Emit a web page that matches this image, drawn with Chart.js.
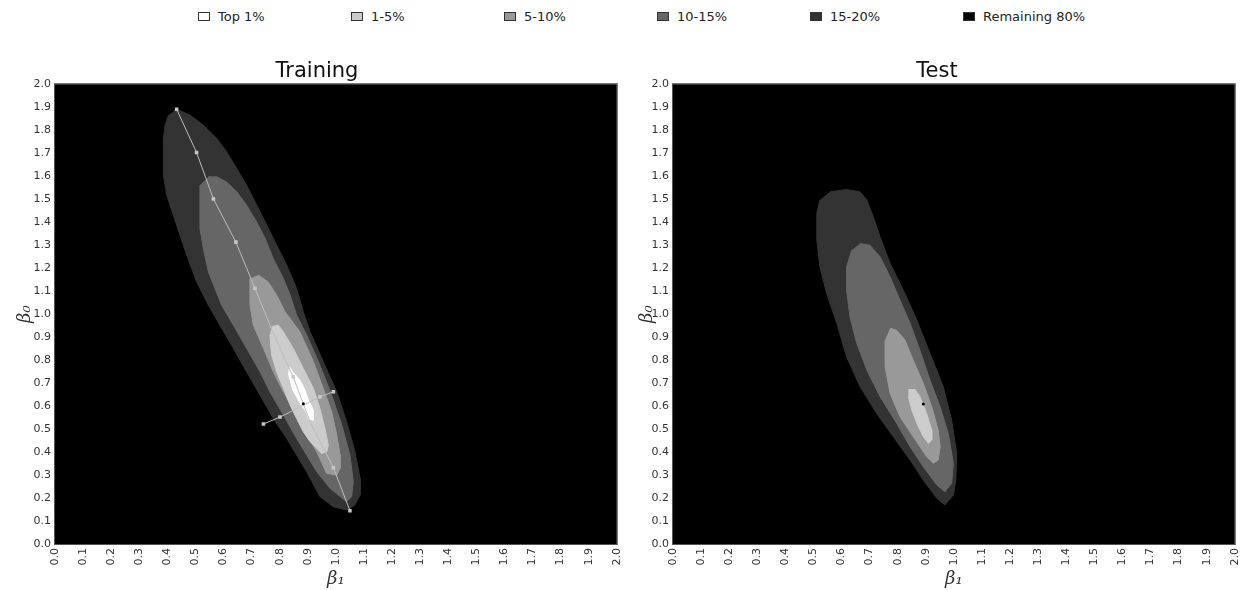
<!DOCTYPE html>
<html>
<head>
<meta charset="utf-8">
<script src="https://cdn.jsdelivr.net/npm/chart.js@4.4.0/dist/chart.umd.min.js"></script>
<style>
  body { margin: 0; background: #fff; width: 1244px; height: 590px; position: relative; overflow: hidden; font-family: "DejaVu Sans", sans-serif; }
  #legend { position: absolute; top: 9px; left: 198px; display: flex; z-index: 2; }
  .item { width: 153px; display: flex; align-items: center; font-size: 13px; color: #222; }
  .box { width: 10px; height: 7px; border: 1px solid #333; margin-right: 8px; }
  .wrap { position: absolute; top: 40px; height: 550px; }
</style>
</head>
<body>
<div id="legend"></div>
<div class="wrap" style="left:0;width:634px"><canvas id="train" width="634" height="550"></canvas></div>
<div class="wrap" style="left:622px;width:630px"><canvas id="test" width="630" height="550"></canvas></div>
<script>
const levels = ['Top 1%', '1-5%', '5-10%', '10-15%', '15-20%', 'Remaining 80%'];
const levelColors = ['#ffffff', '#cccccc', '#999999', '#666666', '#333333', '#000000'];
const tickLabels = ['0.0', '0.1', '0.2', '0.3', '0.4', '0.5', '0.6', '0.7', '0.8', '0.9', '1.0',
  '1.1', '1.2', '1.3', '1.4', '1.5', '1.6', '1.7', '1.8', '1.9', '2.0'];
const tickValues = tickLabels.map(Number);

// region outlines, points are [beta1, beta0]
const trainTop1 = [[0.834, 0.771], [0.846, 0.749], [0.872, 0.713], [0.890, 0.670], [0.902, 0.626], [0.920, 0.583],
  [0.920, 0.539], [0.905, 0.539], [0.890, 0.583], [0.872, 0.612], [0.860, 0.641], [0.846, 0.670], [0.837, 0.713], [0.830, 0.742]];
const train1to5 = [[0.771, 0.945], [0.795, 0.952], [0.813, 0.923], [0.848, 0.851], [0.884, 0.764], [0.920, 0.677],
  [0.943, 0.590], [0.961, 0.503], [0.973, 0.430], [0.967, 0.401], [0.949, 0.394], [0.932, 0.416], [0.908, 0.445],
  [0.884, 0.488], [0.860, 0.546], [0.837, 0.604], [0.813, 0.677], [0.789, 0.749], [0.771, 0.822], [0.765, 0.909]];
const train5to10 = [[0.724, 1.170], [0.759, 1.140], [0.789, 1.083], [0.819, 1.010], [0.872, 0.923], [0.920, 0.793],
  [0.955, 0.677], [0.985, 0.575], [1.003, 0.474], [1.015, 0.387], [1.015, 0.329], [1.003, 0.300], [0.967, 0.307],
  [0.932, 0.401], [0.896, 0.474], [0.860, 0.561], [0.813, 0.662], [0.777, 0.749], [0.742, 0.851], [0.706, 0.952],
  [0.694, 1.039], [0.694, 1.155]];
const train10to15 = [[0.546, 1.597], [0.576, 1.597], [0.611, 1.575], [0.647, 1.532], [0.682, 1.474], [0.718, 1.401],
  [0.748, 1.329], [0.777, 1.242], [0.813, 1.155], [0.837, 1.083], [0.860, 0.996], [0.896, 0.909], [0.943, 0.778],
  [0.985, 0.648], [1.021, 0.517], [1.050, 0.387], [1.062, 0.271], [1.056, 0.206], [1.038, 0.184], [0.979, 0.242],
  [0.932, 0.314], [0.896, 0.387], [0.860, 0.459], [0.813, 0.561], [0.765, 0.662], [0.730, 0.749], [0.682, 0.851],
  [0.635, 0.952], [0.593, 1.039], [0.546, 1.184], [0.528, 1.286], [0.516, 1.373], [0.516, 1.561]];
const train15to20 = [[0.433, 1.891], [0.481, 1.865], [0.528, 1.822], [0.576, 1.764], [0.611, 1.706], [0.647, 1.633],
  [0.682, 1.561], [0.718, 1.474], [0.754, 1.387], [0.789, 1.300], [0.825, 1.213], [0.860, 1.112], [0.884, 1.010],
  [0.908, 0.923], [0.955, 0.793], [1.003, 0.662], [1.038, 0.532], [1.068, 0.401], [1.086, 0.286], [1.086, 0.213],
  [1.068, 0.170], [1.038, 0.148], [0.991, 0.162], [0.943, 0.206], [0.896, 0.314], [0.860, 0.387], [0.825, 0.459],
  [0.777, 0.546], [0.730, 0.648], [0.682, 0.749], [0.635, 0.851], [0.587, 0.952], [0.546, 1.039], [0.504, 1.140],
  [0.469, 1.257], [0.445, 1.343], [0.421, 1.430], [0.398, 1.517], [0.386, 1.604], [0.386, 1.764], [0.392, 1.822],
  [0.404, 1.865]];
const trainLongAxis = [[0.433, 1.891], [0.504, 1.703], [0.564, 1.501], [0.644, 1.313], [0.712, 1.112], [0.777, 0.917],
  [0.848, 0.727], [0.908, 0.532], [0.991, 0.332], [1.050, 0.145]];
const trainShortAxis = [[0.742, 0.522], [0.801, 0.552], [0.943, 0.640], [0.991, 0.662]];
const trainCenter = [[0.884, 0.610]];

const test1to5 = [[0.838, 0.672], [0.862, 0.672], [0.879, 0.641], [0.903, 0.568], [0.921, 0.496], [0.921, 0.452],
  [0.909, 0.438], [0.891, 0.467], [0.868, 0.525], [0.850, 0.583], [0.838, 0.641]];
const test5to10 = [[0.773, 0.938], [0.796, 0.930], [0.826, 0.887], [0.855, 0.800], [0.891, 0.699], [0.921, 0.597],
  [0.944, 0.496], [0.951, 0.423], [0.944, 0.365], [0.927, 0.351], [0.903, 0.380], [0.855, 0.467], [0.808, 0.554],
  [0.773, 0.655], [0.755, 0.771], [0.755, 0.887]];
const test10to15 = [[0.666, 1.307], [0.701, 1.300], [0.737, 1.249], [0.773, 1.162], [0.808, 1.061], [0.844, 0.960],
  [0.879, 0.843], [0.915, 0.713], [0.951, 0.597], [0.980, 0.481], [0.998, 0.351], [0.992, 0.264], [0.968, 0.227],
  [0.939, 0.257], [0.891, 0.336], [0.844, 0.423], [0.796, 0.525], [0.737, 0.641], [0.690, 0.757], [0.654, 0.873],
  [0.630, 0.988], [0.618, 1.104], [0.618, 1.206], [0.636, 1.278]];
const test15to20 = [[0.559, 1.532], [0.618, 1.542], [0.666, 1.532], [0.690, 1.496], [0.713, 1.423], [0.737, 1.336],
  [0.773, 1.220], [0.820, 1.104], [0.868, 0.974], [0.915, 0.829], [0.962, 0.684], [0.992, 0.539], [1.010, 0.394],
  [1.007, 0.278], [0.998, 0.213], [0.968, 0.170], [0.939, 0.199], [0.891, 0.278], [0.844, 0.365], [0.784, 0.467],
  [0.725, 0.568], [0.666, 0.684], [0.618, 0.814], [0.583, 0.960], [0.547, 1.090], [0.523, 1.206], [0.512, 1.322],
  [0.512, 1.438], [0.523, 1.496]];
const testCenter = [[0.891, 0.609]];

Chart.defaults.font.family = '"DejaVu Sans", sans-serif';
Chart.defaults.color = '#333';

// legend (shared by both panels)
const legendEl = document.getElementById('legend');
levels.forEach((name, i) => {
  const item = document.createElement('div');
  item.className = 'item';
  item.innerHTML = '<span class="box" style="background:' + levelColors[i] + '"></span>' + name;
  legendEl.appendChild(item);
});

function pts(arr) {
  return arr.map(p => ({x: p[0], y: p[1]}));
}

function regionSet(outline, level) {
  return {
    data: pts(outline),
    showLine: true,
    fill: 'shape',
    backgroundColor: levelColors[level],
    borderColor: levelColors[level],
    borderWidth: 1,
    pointRadius: 0
  };
}

function axisSet(line) {
  return {
    data: pts(line),
    showLine: true,
    fill: false,
    borderColor: '#bdbdbd',
    borderWidth: 1,
    pointStyle: 'rect',
    pointRadius: 2.5,
    pointBackgroundColor: '#c8c8c8',
    pointBorderWidth: 0
  };
}

function centerSet(p) {
  return {data: pts(p), pointRadius: 1.5, pointBackgroundColor: '#000', pointBorderWidth: 0, showLine: false};
}

const areaBg = {
  id: 'areaBg',
  beforeDraw(chart) {
    const {ctx, chartArea: a} = chart;
    ctx.save();
    ctx.fillStyle = '#000';
    ctx.fillRect(a.left, a.top, a.width, a.height);
    ctx.restore();
  },
  afterDraw(chart) {
    const {ctx, chartArea: a} = chart;
    ctx.save();
    ctx.strokeStyle = '#555';
    ctx.lineWidth = 1;
    ctx.strokeRect(a.left - 0.5, a.top - 0.5, a.width + 1, a.height + 1);
    ctx.restore();
  }
};

function makeChart(id, title, datasets, axisWidth) {
  return new Chart(document.getElementById(id), {
    type: 'scatter',
    data: {datasets: datasets},
    options: {
      responsive: false,
      animation: false,
      layout: {padding: 0},
      plugins: {
        legend: {display: false},
        tooltip: {enabled: false},
        title: {
          display: true,
          text: title,
          color: '#111',
          font: {size: 21, weight: 'normal'},
          padding: {top: 19, bottom: 0}
        }
      },
      scales: {
        x: {
          type: 'linear',
          min: 0,
          max: 2,
          afterBuildTicks: s => { s.ticks = tickValues.map(v => ({value: v})); },
          afterFit: s => { s.height = 46; },
          ticks: {
            autoSkip: false,
            minRotation: 90,
            maxRotation: 90,
            padding: 4,
            font: {size: 11},
            callback: (v, i) => tickLabels[i]
          },
          grid: {display: false, drawTicks: false},
          border: {display: false},
          title: {
            display: true,
            text: 'β₁',
            font: {family: 'DejaVu Serif', style: 'italic', size: 18},
            padding: 0
          }
        },
        y: {
          type: 'linear',
          min: 0,
          max: 2,
          afterBuildTicks: s => { s.ticks = tickValues.map(v => ({value: v})); },
          afterFit: s => { s.width = axisWidth; },
          ticks: {
            autoSkip: false,
            padding: 4,
            font: {size: 11},
            callback: (v, i) => tickLabels[i]
          },
          grid: {display: false, drawTicks: false},
          border: {display: false},
          title: {
            display: true,
            text: 'β₀',
            font: {family: 'DejaVu Serif', style: 'italic', size: 18},
            padding: {top: 15, bottom: 0}
          }
        }
      }
    },
    plugins: [areaBg]
  });
}

makeChart('train', 'Training', [
  centerSet(trainCenter),
  axisSet(trainShortAxis),
  axisSet(trainLongAxis),
  regionSet(trainTop1, 0),
  regionSet(train1to5, 1),
  regionSet(train5to10, 2),
  regionSet(train10to15, 3),
  regionSet(train15to20, 4)
], 55);

makeChart('test', 'Test', [
  centerSet(testCenter),
  regionSet(test1to5, 1),
  regionSet(test5to10, 2),
  regionSet(test10to15, 3),
  regionSet(test15to20, 4)
], 51);
</script>
</body>
</html>
